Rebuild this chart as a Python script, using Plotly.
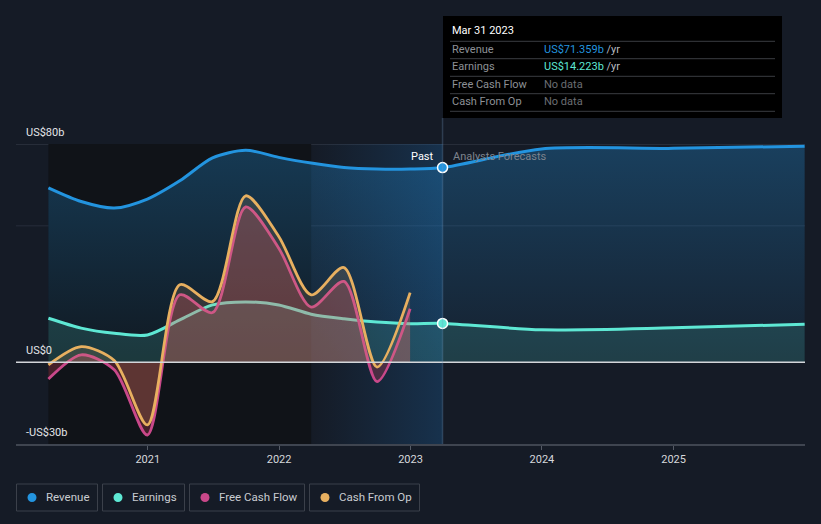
import plotly.graph_objects as go

# ---------------- data (US$ billions) ----------------
past_dates = ["2020-03-31", "2020-06-30", "2020-09-30", "2020-12-31",
              "2021-03-31", "2021-06-30", "2021-09-30", "2021-12-31",
              "2022-03-31", "2022-06-30", "2022-09-30", "2022-12-31",
              "2023-03-31"]
forecast_dates = ["2023-12-31", "2024-12-31", "2025-12-31"]

revenue_past = [63.9, 58.9, 56.5, 59.8, 66.5, 74.9, 77.7, 75.1, 73.0, 71.4, 70.8, 70.8, 71.359]
revenue_forecast = [78.2, 78.4, 79.2]

earnings_past = [16.1, 12.5, 10.6, 10.0, 15.5, 21.0, 22.1, 21.0, 17.6, 15.9, 14.7, 14.1, 14.223]
earnings_forecast = [11.9, 12.6, 13.9]

cf_dates = past_dates[:12]
free_cash_flow = [-6.2, 2.7, -2.8, -26.7, 24.7, 18.2, 56.9, 41.8, 20.2, 29.6, -7.1, 19.6]
cash_from_op = [-1.0, 5.7, 0.6, -23.0, 28.4, 22.2, 61.0, 46.1, 24.7, 34.7, -1.8, 25.5]

year_ticks = ["2021-01-01", "2022-01-01", "2023-01-01", "2024-01-01", "2025-01-01"]
year_labels = ["2021", "2022", "2023", "2024", "2025"]
y_labels = {80: "US$80b", 0: "US$0", -30: "-US$30b"}

tooltip_date = "Mar 31 2023"
tooltip_rows = [("Revenue", "US$71.359b", "#2394df"),
                ("Earnings", "US$14.223b", "#5ee8d4"),
                ("Free Cash Flow", None, None),
                ("Cash From Op", None, None)]

# ---------------- styling ----------------
BG = "#151b26"
C_REV = "#2394df"
C_EARN = "#5ee8d4"
C_FCF = "#c9488a"
C_CFO = "#e8b060"
FONT = "Roboto"
Y_MIN, Y_MAX = -30, 80

W, H = 821, 524
L, R, T, B = 16, 805, 144, 444


def px(x):
    return (x - L) / (R - L)


def py(y):
    return (B - y) / (B - T)


rev_dates = past_dates + forecast_dates
rev_vals = revenue_past + revenue_forecast
earn_vals = earnings_past + earnings_forecast

hl_start, hl_end = past_dates[-5], past_dates[-1]

fig = go.Figure()

# highlight window (last year) with horizontal gradient
fig.add_trace(go.Scatter(
    x=[hl_start, hl_end, hl_end, hl_start, hl_start],
    y=[Y_MIN, Y_MIN, Y_MAX, Y_MAX, Y_MIN],
    mode="lines", line=dict(width=0), fill="toself",
    fillgradient=dict(type="horizontal",
                      colorscale=[[0, "rgba(30,120,200,0.0)"], [1, "rgba(30,130,215,0.22)"]]),
    hoverinfo="skip", showlegend=False))

# revenue area + line
fig.add_trace(go.Scatter(
    x=rev_dates, y=rev_vals, mode="lines",
    line=dict(color=C_REV, width=3, shape="spline", smoothing=0.8),
    fill="tozeroy",
    fillgradient=dict(type="vertical",
                      colorscale=[[0, "rgba(35,148,223,0.05)"], [1, "rgba(35,148,223,0.3)"]]),
    hoverinfo="skip", showlegend=False))

# earnings area + line
fig.add_trace(go.Scatter(
    x=rev_dates, y=earn_vals, mode="lines",
    line=dict(color=C_EARN, width=3, shape="spline", smoothing=0.8),
    fill="tozeroy", fillcolor="rgba(94,232,212,0.15)",
    hoverinfo="skip", showlegend=False))

# free cash flow
fig.add_trace(go.Scatter(
    x=cf_dates, y=free_cash_flow, mode="lines",
    line=dict(color=C_FCF, width=2.8, shape="spline", smoothing=0.8),
    fill="tozeroy", fillcolor="rgba(225,70,95,0.26)",
    hoverinfo="skip", showlegend=False))

# cash from operations
fig.add_trace(go.Scatter(
    x=cf_dates, y=cash_from_op, mode="lines",
    line=dict(color=C_CFO, width=2.8, shape="spline", smoothing=0.8),
    fill="tozeroy", fillcolor="rgba(235,175,110,0.15)",
    hoverinfo="skip", showlegend=False))

# hover markers
fig.add_trace(go.Scatter(
    x=[past_dates[-1], past_dates[-1]], y=[revenue_past[-1], earnings_past[-1]],
    mode="markers",
    marker=dict(size=10, color=[C_REV, C_EARN], line=dict(color="white", width=1.5)),
    hoverinfo="skip", showlegend=False))

shapes = []
# darker "past" region
shapes.append(dict(type="rect", xref="x", yref="y", x0=past_dates[0], x1=hl_start,
                   y0=Y_MIN, y1=Y_MAX, fillcolor="#101318", line=dict(width=0), layer="below"))
# gridlines
shapes.append(dict(type="line", xref="paper", yref="y", x0=0, x1=1, y0=80, y1=80,
                   line=dict(color="#3a404c", width=1), layer="below"))
shapes.append(dict(type="line", xref="paper", yref="y", x0=0, x1=1, y0=50, y1=50,
                   line=dict(color="#262d3a", width=1), layer="below"))
# zero line
shapes.append(dict(type="line", xref="paper", yref="y", x0=0, x1=1, y0=0, y1=0,
                   line=dict(color="#d3d6da", width=1.5), layer="above"))
# hover line
shapes.append(dict(type="line", xref="x", yref="paper", x0=past_dates[-1], x1=past_dates[-1],
                   y0=0, y1=py(118), line=dict(color="rgba(110,150,190,0.28)", width=1.5),
                   layer="above"))
# tooltip box
shapes.append(dict(type="rect", xref="paper", yref="paper", x0=px(443), x1=px(782),
                   y0=py(118), y1=py(16), fillcolor="#000000", line=dict(width=0), layer="above"))
for yy in [41.3, 58.7, 76.3, 93.7, 111.3]:
    shapes.append(dict(type="line", xref="paper", yref="paper", x0=px(450), x1=px(775),
                       y0=py(yy), y1=py(yy), line=dict(color="#3a3d42", width=1), layer="above"))

annotations = []
for v, t in y_labels.items():
    ypix = B - (v - Y_MIN) / (Y_MAX - Y_MIN) * (B - T) - 12
    annotations.append(dict(x=px(24), y=py(ypix), xref="paper", yref="paper", text=t,
                            showarrow=False, xanchor="left", yanchor="middle",
                            font=dict(family=FONT, size=11, color="#e3e5e8")))

annotations.append(dict(x=px(436), y=py(156), xref="paper", yref="paper", text="Past",
                        showarrow=False, xanchor="right", yanchor="middle",
                        font=dict(family=FONT, size=11, color="#ffffff")))
annotations.append(dict(x=px(451), y=py(156), xref="paper", yref="paper", text="Analysts Forecasts",
                        showarrow=False, xanchor="left", yanchor="middle",
                        font=dict(family=FONT, size=11, color="#7e848e")))

# tooltip text
annotations.append(dict(x=px(450), y=py(30.7), xref="paper", yref="paper", text=tooltip_date,
                        showarrow=False, xanchor="left", yanchor="middle",
                        font=dict(family=FONT, size=11, color="#ffffff")))
row_y = [49.3, 66.7, 84.3, 101.7]
for (lab, val, col), yy in zip(tooltip_rows, row_y):
    annotations.append(dict(x=px(450), y=py(yy), xref="paper", yref="paper", text=lab,
                            showarrow=False, xanchor="left", yanchor="middle",
                            font=dict(family=FONT, size=11, color="#8d9096")))
    if val is None:
        txt = "<span style='color:#6b6e73'>No data</span>"
    else:
        txt = f"<span style='color:{col}'>{val}</span><span style='color:#b8bbc0'> /yr</span>"
    annotations.append(dict(x=px(542), y=py(yy), xref="paper", yref="paper", text=txt,
                            showarrow=False, xanchor="left", yanchor="middle",
                            font=dict(family=FONT, size=11, color="#b8bbc0")))

# custom legend
legend_items = [("Revenue", C_REV, 16.5, 97.5),
                ("Earnings", C_EARN, 102.5, 184.5),
                ("Free Cash Flow", C_FCF, 189.5, 304.5),
                ("Cash From Op", C_CFO, 309.5, 419.5)]
for name, col, x0, x1 in legend_items:
    shapes.append(dict(type="rect", xref="paper", yref="paper", x0=px(x0), x1=px(x1),
                       y0=py(511), y1=py(484), line=dict(color="#3b404a", width=1),
                       fillcolor="rgba(0,0,0,0)", layer="above"))
    cx = x0 + 15.5
    shapes.append(dict(type="circle", xref="paper", yref="paper", x0=px(cx - 4.5), x1=px(cx + 4.5),
                       y0=py(502), y1=py(493), fillcolor=col, line=dict(width=0), layer="above"))
    annotations.append(dict(x=px(x0 + 27.5), y=py(497.5), xref="paper", yref="paper", text=name,
                            showarrow=False, xanchor="left", yanchor="middle",
                            font=dict(family=FONT, size=11.5, color="#c9ccd1")))

fig.update_layout(
    width=W, height=H,
    margin=dict(l=L, r=W - R, t=T, b=H - B),
    paper_bgcolor=BG, plot_bgcolor=BG,
    showlegend=False, hovermode=False,
    shapes=shapes, annotations=annotations,
    xaxis=dict(type="date", range=["2020-01-01", "2026-01-01"],
               tickvals=year_ticks, ticktext=year_labels,
               ticks="outside", ticklen=4, tickcolor="#555b66", tickwidth=1,
               showline=True, linecolor="#3f4550", linewidth=1.5,
               showgrid=False, zeroline=False,
               tickfont=dict(family=FONT, size=11, color="#d6d8dc")),
    yaxis=dict(range=[Y_MIN, Y_MAX], showgrid=False, zeroline=False,
               showticklabels=False, showline=False, ticks=""),
)

fig.write_html(
    "out.html",
    config={"displayModeBar": False},
    post_script=("document.body.style.margin='0';"
                 "document.body.style.padding='0';"
                 "document.body.style.background='" + BG + "';"
                 "document.body.style.overflow='hidden';"),
)
